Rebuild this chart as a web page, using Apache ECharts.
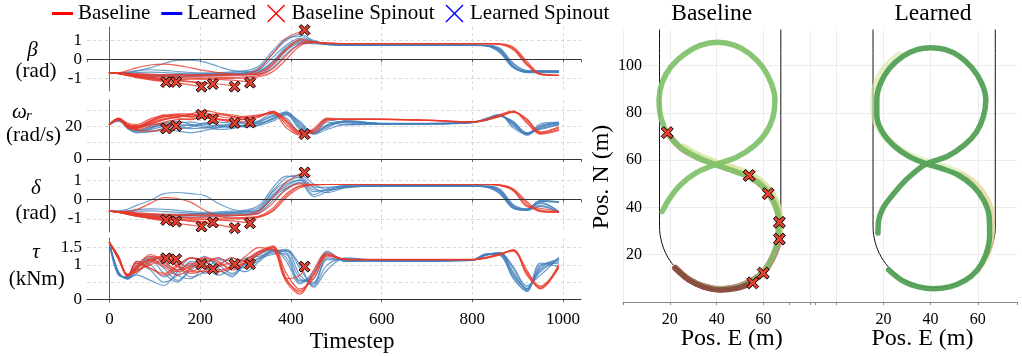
<!DOCTYPE html>
<html>
<head>
<meta charset="utf-8">
<title>Baseline vs Learned</title>
<script src="https://cdn.jsdelivr.net/npm/echarts@6.0.0/dist/echarts.min.js"></script>
<style>
  html, body { margin: 0; padding: 0; background: #fff; }
  #chart { width: 1022px; height: 356px; }
</style>
</head>
<body>
<div id="chart"></div>
<script>
// shared timestep grid of the full-length runs
const timesteps = [0, 20, 40, 60, 90, 120, 150, 180, 210, 240, 270, 300, 330, 360, 390, 420, 450, 480, 520, 600, 700, 800, 830, 860, 890, 920, 950, 990]
// timesteps where the baseline runs spun out
const spinT = [125, 147, 203, 228, 276, 310, 430]

// beta (rad)
const betaBlue = [
  [-0.7, -0.72, -0.7, -0.62, -0.45, -0.22, -0.06, -0.05, -0.15, -0.38, -0.58, -0.65, -0.6, -0.1, 0.65, 1.0, 0.9, 0.78, 0.75, 0.74, 0.74, 0.74, 0.73, 0.5, -0.35, -0.64, -0.63, -0.64],
  [-0.7, -0.73, -0.76, -0.78, -0.8, -0.82, -0.8, -0.78, -0.76, -0.74, -0.72, -0.7, -0.55, 0.1, 0.75, 1.1, 0.95, 0.8, 0.76, 0.75, 0.75, 0.75, 0.72, 0.45, -0.4, -0.66, -0.64, -0.65],
  [-0.7, -0.74, -0.8, -0.85, -0.9, -0.92, -0.9, -0.86, -0.84, -0.82, -0.8, -0.78, -0.7, -0.3, 0.45, 0.85, 0.82, 0.77, 0.75, 0.74, 0.74, 0.74, 0.7, 0.35, -0.45, -0.68, -0.67, -0.68],
  [-0.7, -0.72, -0.72, -0.7, -0.68, -0.7, -0.74, -0.78, -0.8, -0.8, -0.78, -0.72, -0.45, 0.3, 1.0, 1.3, 1.0, 0.8, 0.76, 0.75, 0.75, 0.75, 0.73, 0.55, -0.25, -0.6, -0.62, -0.62],
  [-0.7, -0.75, -0.82, -0.9, -0.98, -1.0, -0.97, -0.92, -0.88, -0.86, -0.84, -0.82, -0.78, -0.45, 0.3, 0.8, 0.9, 0.78, 0.75, 0.73, 0.73, 0.73, 0.71, 0.4, -0.4, -0.7, -0.7, -0.7],
  [-0.7, -0.71, -0.68, -0.6, -0.55, -0.58, -0.65, -0.7, -0.72, -0.7, -0.66, -0.6, -0.35, 0.45, 1.1, 1.2, 0.95, 0.82, 0.77, 0.75, 0.75, 0.75, 0.74, 0.6, -0.2, -0.6, -0.6, -0.6],
  [-0.7, -0.73, -0.78, -0.82, -0.85, -0.86, -0.84, -0.82, -0.8, -0.78, -0.76, -0.74, -0.65, -0.15, 0.55, 0.9, 0.88, 0.8, 0.76, 0.75, 0.74, 0.74, 0.72, 0.48, -0.35, -0.66, -0.66, -0.67]
]
const betaRed = [
  [-0.7, -0.74, -0.8, -0.85, -0.88, -0.9, -0.92, -0.93, -0.94, -0.95, -0.95, -0.92, -0.85, -0.5, 0.2, 0.8, 0.88, 0.84, 0.82, 0.82, 0.82, 0.82, 0.82, 0.8, 0.6, -0.2, -0.78, -0.84],
  [-0.7, -0.7, -0.6, -0.45, -0.3, -0.26, -0.32, -0.45, -0.6, -0.7, -0.78, -0.82, -0.78, -0.3, 0.5, 0.95, 0.9, 0.84, 0.82, 0.82, 0.82, 0.82, 0.82, 0.78, 0.5, -0.3, -0.8, -0.85],
  [-0.7, -0.76, -0.85, -0.95, -1.02, -1.05, -1.06, -1.05, -1.04, -1.02, -1.0, -0.98, -0.92, -0.65, 0.0, 0.7, 0.9, 0.85, 0.83, 0.82, 0.82, 0.82, 0.82, 0.81, 0.65, -0.1, -0.75, -0.84],
  [-0.7, -0.73, -0.76, -0.8, -0.82, -0.84, -0.85, -0.86, -0.86, -0.86, -0.85, -0.8, -0.7, -0.2, 0.55, 1.05, 0.92, 0.85, 0.83, 0.83, 0.83, 0.83, 0.83, 0.79, 0.55, -0.25, -0.8, -0.86]
]
const betaSpinRuns = [
  [-0.7, -0.76, -0.86, -0.96, -1.08, -1.18],
  [-0.7, -0.75, -0.82, -0.9, -1.0, -1.1],
  [-0.7, -0.76, -0.84, -0.94, -1.05, -1.15, -1.25, -1.35],
  [-0.7, -0.74, -0.8, -0.88, -0.96, -1.04, -1.12, -1.2, -1.26],
  [-0.7, -0.74, -0.8, -0.87, -0.95, -1.03, -1.1, -1.17, -1.24, -1.3, -1.4],
  [-0.7, -0.73, -0.77, -0.82, -0.88, -0.93, -0.97, -1.0, -1.03, -1.06, -1.1, -1.18],
  [-0.7, -0.72, -0.74, -0.76, -0.78, -0.8, -0.8, -0.8, -0.8, -0.8, -0.8, -0.78, -0.5, 0.3, 1.1, 1.45]
]
const betaSpin = [-1.2, -1.2, -1.44, -1.3, -1.44, -1.23, 1.54]

// omega_r (rad/s)
const omegaBlue = [
  [21, 24, 19.5, 17.5, 19, 21, 20, 18.5, 19, 20.5, 21, 20, 21, 25, 28, 20, 15.5, 20, 22.5, 21.5, 21.5, 22.3, 24, 26.5, 22, 15, 19, 21.5],
  [21, 23.5, 20, 18, 17, 17.5, 19.5, 21, 20, 18, 18.5, 21, 23, 26.5, 27, 18, 16, 22.5, 21, 21.3, 21.3, 22.2, 24.5, 27, 20, 15.5, 20.5, 22],
  [21, 24.5, 18.5, 16.5, 18.5, 22, 23, 21, 19, 19.5, 21.5, 22.5, 22, 24, 28.5, 22, 16.5, 19, 23.5, 21.7, 21.7, 22.4, 23.5, 26, 23, 16, 18, 21],
  [21, 23, 20.5, 19, 20.5, 21.5, 21, 20.5, 21.5, 22.5, 22, 21.5, 23.5, 27.5, 25, 17, 17, 24, 22, 21.4, 21.4, 22.3, 24.8, 27.2, 19, 15, 21.5, 22.5],
  [21, 24, 19, 16, 16.5, 18.5, 17, 16, 17.5, 19, 20, 19.5, 20.5, 23, 27, 23, 15, 18, 21, 21.2, 21.4, 22.2, 23.8, 26.3, 21.5, 14.5, 19.5, 22],
  [21, 23.8, 20, 17, 18, 20, 22, 22.5, 21, 20, 19.5, 20.5, 22.5, 26, 28.7, 21, 15.5, 21, 22.8, 21.6, 21.6, 22.4, 24.2, 26.8, 21, 15.2, 20, 21.8],
  [21, 24.2, 19.2, 17.3, 19.5, 20.5, 18.5, 19.5, 22, 21, 19, 20.5, 21.5, 24.5, 27.5, 19, 16, 20.5, 23, 21.8, 21.6, 22.3, 24, 26.5, 22.5, 16, 18.5, 21]
]
const omegaRed = [
  [21, 24.5, 20, 19, 23, 27, 27, 26, 28, 26, 25, 26, 27, 28.5, 21, 15, 17, 24.5, 24, 24.2, 23.6, 22.6, 24, 26.5, 29, 23, 15.5, 18],
  [21, 25, 21, 20, 21, 24, 25.5, 27.5, 29.5, 28, 26, 24, 25.5, 29, 24, 16, 16, 23.5, 24.5, 24.3, 23.7, 22.7, 23.8, 26, 28.5, 24, 16, 19],
  [21, 24, 19, 18, 20, 22.5, 24, 24.5, 25, 24, 23.5, 24.5, 26.5, 28, 19, 14.5, 18.5, 25, 24.2, 24.1, 23.5, 22.5, 24.2, 27, 29.3, 22, 15.2, 17.5],
  [21, 24.8, 22, 21, 24.5, 26.5, 25, 24, 26.5, 27.5, 27, 25.5, 26, 29, 22.5, 15.5, 17.5, 24, 24.4, 24.4, 23.8, 22.8, 23.6, 25.8, 28.8, 24.5, 16.5, 19.5]
]
const omegaSpinRuns = [
  [21, 24, 19.5, 17.5, 17, 18.2],
  [21, 24.5, 20.5, 19, 21.5, 21.5],
  [21, 24.5, 21, 20, 23.5, 26, 27.5, 27.5],
  [21, 24, 20, 19.5, 22, 24.5, 26, 27, 25.5],
  [21, 24.5, 20.5, 19.5, 22.5, 25.5, 27, 26, 25.5, 24, 22.5],
  [21, 24.2, 19.8, 18.5, 21.5, 24, 25.5, 27, 26, 24.5, 23.5, 22.5],
  [21, 24.7, 21, 20, 23, 26, 26.5, 25.5, 27, 27, 26, 25, 26.5, 28, 23, 16]
]
const omegaSpin = [18.6, 20.2, 27, 24.2, 22, 22.2, 15.2]

// delta (rad)
const deltaBlue = [
  [-0.6, -0.58, -0.5, -0.3, -0.05, 0.3, 0.36, 0.3, 0.2, -0.2, -0.5, -0.62, -0.55, 0.2, 0.7, 1.0, 0.5, 0.45, 0.65, 0.7, 0.7, 0.7, 0.68, 0.45, -0.35, -0.5, -0.1, -0.12],
  [-0.6, -0.63, -0.68, -0.72, -0.76, -0.78, -0.76, -0.74, -0.72, -0.7, -0.68, -0.64, -0.5, 0.4, 0.9, 1.15, 0.6, 0.35, 0.6, 0.7, 0.7, 0.7, 0.66, 0.4, -0.4, -0.52, -0.2, -0.6],
  [-0.6, -0.64, -0.72, -0.8, -0.86, -0.88, -0.86, -0.82, -0.8, -0.78, -0.76, -0.74, -0.62, 0.1, 0.6, 0.9, 0.25, 0.55, 0.72, 0.69, 0.69, 0.69, 0.65, 0.35, -0.45, -0.55, -0.3, -0.65],
  [-0.6, -0.62, -0.62, -0.6, -0.58, -0.62, -0.66, -0.7, -0.72, -0.7, -0.66, -0.6, -0.4, 0.45, 1.1, 1.25, 0.8, 0.5, 0.62, 0.71, 0.71, 0.71, 0.69, 0.5, -0.3, -0.48, -0.08, -0.15],
  [-0.6, -0.65, -0.75, -0.85, -0.92, -0.95, -0.92, -0.9, -0.88, -0.86, -0.84, -0.8, -0.7, -0.05, 0.5, 0.85, 0.15, 0.4, 0.68, 0.68, 0.68, 0.68, 0.64, 0.3, -0.45, -0.56, -0.35, -0.67],
  [-0.6, -0.61, -0.58, -0.52, -0.48, -0.5, -0.56, -0.62, -0.66, -0.64, -0.6, -0.55, -0.3, 0.6, 1.2, 1.1, 0.65, 0.62, 0.7, 0.7, 0.7, 0.7, 0.69, 0.55, -0.25, -0.5, -0.05, -0.12],
  [-0.6, -0.63, -0.7, -0.76, -0.8, -0.82, -0.8, -0.78, -0.76, -0.74, -0.72, -0.7, -0.58, 0.25, 0.8, 1.0, 0.4, 0.5, 0.66, 0.69, 0.69, 0.69, 0.67, 0.42, -0.38, -0.53, -0.15, -0.62]
]
const deltaRed = [
  [-0.6, -0.65, -0.72, -0.8, -0.86, -0.9, -0.92, -0.93, -0.94, -0.95, -0.95, -0.92, -0.85, -0.45, 0.3, 0.7, 0.76, 0.77, 0.77, 0.77, 0.77, 0.77, 0.77, 0.74, 0.5, -0.2, -0.62, -0.65],
  [-0.6, -0.62, -0.6, -0.52, -0.2, 0.1, 0.05, -0.15, -0.55, -0.85, -0.95, -0.95, -0.88, -0.55, 0.2, 0.68, 0.76, 0.77, 0.77, 0.77, 0.77, 0.77, 0.77, 0.72, 0.45, -0.3, -0.55, -0.64],
  [-0.6, -0.66, -0.76, -0.86, -0.96, -1.02, -1.05, -1.05, -1.04, -1.02, -1.0, -0.98, -0.92, -0.6, 0.1, 0.6, 0.75, 0.77, 0.77, 0.77, 0.77, 0.77, 0.77, 0.75, 0.55, -0.1, -0.6, -0.66],
  [-0.6, -0.64, -0.68, -0.72, -0.76, -0.8, -0.82, -0.83, -0.84, -0.84, -0.83, -0.8, -0.7, -0.2, 0.55, 0.8, 0.77, 0.77, 0.77, 0.77, 0.77, 0.77, 0.77, 0.73, 0.48, -0.36, -0.45, -0.62]
]
const deltaSpinRuns = [
  [-0.6, -0.66, -0.76, -0.86, -0.96, -1.04],
  [-0.6, -0.65, -0.73, -0.82, -0.93, -1.04],
  [-0.6, -0.66, -0.75, -0.84, -0.98, -1.1, -1.22, -1.32],
  [-0.6, -0.64, -0.7, -0.78, -0.88, -0.97, -1.05, -1.1, -1.15],
  [-0.6, -0.64, -0.7, -0.77, -0.86, -0.95, -1.03, -1.12, -1.2, -1.3, -1.44],
  [-0.6, -0.63, -0.68, -0.74, -0.82, -0.88, -0.93, -0.98, -1.02, -1.06, -1.1, -1.18],
  [-0.6, -0.62, -0.65, -0.68, -0.72, -0.75, -0.77, -0.78, -0.79, -0.8, -0.8, -0.78, -0.55, 0.1, 0.9, 1.32]
]
const deltaSpin = [-1.05, -1.13, -1.39, -1.18, -1.47, -1.22, 1.39]

// tau (kNm)
const tauBlue = [
  [1.65, 0.75, 0.62, 0.95, 1.2, 0.9, 0.55, 0.85, 1.15, 1.0, 0.75, 1.05, 1.3, 1.45, 1.2, 0.55, 0.6, 1.3, 1.12, 1.12, 1.12, 1.14, 1.3, 1.33, 0.75, 0.3, 0.95, 1.15],
  [1.65, 0.8, 0.6, 0.75, 1.1, 1.2, 0.95, 0.65, 0.8, 1.15, 1.1, 0.9, 1.15, 1.4, 1.4, 0.7, 0.45, 1.15, 1.15, 1.11, 1.11, 1.13, 1.28, 1.35, 0.9, 0.35, 0.8, 1.2],
  [1.65, 0.7, 0.65, 1.05, 0.85, 0.5, 0.7, 1.1, 0.95, 0.7, 0.9, 1.2, 1.25, 1.38, 1.45, 0.9, 0.4, 1.0, 1.18, 1.12, 1.12, 1.14, 1.32, 1.3, 0.65, 0.22, 1.0, 1.05],
  [1.65, 0.78, 0.58, 0.85, 1.25, 1.05, 0.7, 0.6, 1.0, 1.2, 0.95, 0.8, 1.1, 1.35, 1.3, 0.5, 0.7, 1.35, 1.1, 1.11, 1.11, 1.13, 1.27, 1.36, 0.95, 0.4, 0.7, 1.2],
  [1.65, 0.72, 0.63, 0.7, 0.55, 0.4, 0.8, 1.2, 1.1, 0.85, 0.7, 1.0, 1.2, 1.3, 1.42, 1.0, 0.35, 0.85, 1.2, 1.13, 1.13, 1.15, 1.31, 1.28, 0.6, 0.25, 1.05, 0.95],
  [1.65, 0.76, 0.6, 0.9, 1.15, 0.75, 0.5, 0.95, 1.25, 0.9, 0.65, 1.1, 1.35, 1.45, 1.1, 0.45, 0.8, 1.4, 1.1, 1.12, 1.12, 1.14, 1.29, 1.34, 0.8, 0.28, 0.9, 1.15],
  [1.65, 0.74, 0.64, 1.1, 1.0, 0.65, 0.85, 1.0, 0.75, 0.95, 1.2, 1.0, 1.2, 1.42, 1.35, 0.6, 0.5, 1.2, 1.14, 1.12, 1.12, 1.14, 1.3, 1.32, 0.7, 0.3, 0.85, 1.1]
]
const tauRed = [
  [1.65, 1.2, 0.7, 0.9, 1.2, 1.25, 1.0, 0.8, 1.05, 1.2, 1.0, 1.15, 1.4, 1.5, 0.6, 0.2, 0.7, 1.3, 1.16, 1.15, 1.15, 1.15, 1.2, 1.3, 1.43, 0.75, 0.32, 0.95],
  [1.65, 1.25, 0.68, 1.05, 0.9, 0.7, 0.95, 1.2, 1.1, 0.85, 0.95, 1.25, 1.5, 1.45, 0.5, 0.15, 0.85, 1.35, 1.15, 1.15, 1.15, 1.15, 1.22, 1.32, 1.42, 0.85, 0.3, 0.9],
  [1.65, 1.15, 0.72, 0.8, 1.1, 0.95, 0.7, 0.9, 1.2, 1.1, 0.85, 1.05, 1.35, 1.55, 0.75, 0.3, 0.6, 1.25, 1.17, 1.16, 1.16, 1.16, 1.19, 1.28, 1.44, 0.7, 0.35, 1.0],
  [1.65, 1.22, 0.66, 0.95, 1.3, 1.1, 0.85, 1.05, 0.9, 1.0, 1.2, 1.1, 1.3, 1.52, 0.55, 0.25, 0.75, 1.28, 1.16, 1.15, 1.15, 1.15, 1.21, 1.31, 1.4, 0.8, 0.38, 0.92]
]
const tauSpinRuns = [
  [1.65, 1.2, 0.7, 0.95, 1.15, 1.2],
  [1.65, 1.18, 0.72, 0.85, 1.0, 1.15],
  [1.65, 1.22, 0.7, 1.0, 1.25, 1.1, 0.85, 0.95],
  [1.65, 1.2, 0.68, 0.9, 1.15, 1.2, 0.95, 0.75, 0.85],
  [1.65, 1.24, 0.71, 0.8, 1.05, 1.25, 1.1, 0.85, 0.8, 0.95, 1.05],
  [1.65, 1.19, 0.69, 1.1, 0.9, 0.75, 1.0, 1.2, 1.0, 0.8, 0.9, 1.05],
  [1.65, 1.21, 0.7, 0.9, 1.15, 1.0, 0.8, 1.0, 1.2, 1.05, 0.9, 1.1, 1.38, 1.45, 0.6, 0.7]
]
const tauSpin = [1.19, 1.16, 1.02, 0.88, 1.02, 1.02, 0.95]

// track boundary, Pos. E / Pos. N (m)
const track = [[15.6, 116], [15.6, 32], [16.5, 25.3], [19.1, 19], [23.2, 13.7], [28.5, 9.6], [34.8, 7], [41.5, 6.1], [48.2, 7], [54.5, 9.6], [59.8, 13.7], [63.9, 19], [66.5, 25.3], [67.4, 32], [67.4, 116]]

// baseline runs
const baseRun = [[22.3, 14.4], [28, 9.6], [34.5, 6.6], [41.5, 5.4], [48.5, 6.2], [55, 8.8], [60.2, 13], [64, 19.5], [66.3, 27], [66.4, 35], [64.5, 42], [60.5, 48], [54, 52.8], [46, 55.8], [39.4, 58.1], [32, 61], [25, 65], [19.5, 70.5], [16.3, 77.5], [15.4, 85.6], [16.8, 93], [20.5, 99.5], [26.5, 105], [33, 108.5], [40.3, 109.8], [47.5, 108.6], [54, 105], [59.5, 99.5], [63.3, 92.5], [64.9, 85.6], [64, 78], [61, 71.5], [56, 66], [48.5, 61.2], [39.4, 58.1], [31, 54.5], [24.5, 49.5], [19.7, 43.5], [16.8, 38.3]]
const baseHalo = [[66.8, 30], [66.6, 37], [64.8, 43], [61, 48.8], [54.5, 53.6], [46.5, 56.6], [39.4, 58.8], [32, 61.8], [26, 65.2]]
const baseSpinRuns = [
  [[22.3, 14.4], [28, 9.4], [34.5, 6.3], [41.5, 5.1], [48.5, 5.8], [55.4, 8.1]],
  [[22.3, 14.4], [28, 9.6], [34.5, 6.6], [41.5, 5.5], [48.5, 6.4], [54.8, 9], [59.9, 12.2]],
  [[22.3, 14.4], [28, 9.6], [34.5, 6.6], [41.5, 5.4], [48.5, 6.3], [55.2, 9], [60.6, 13.3], [64.6, 19.8], [66.8, 26.6]],
  [[22.3, 14.4], [28, 9.6], [34.5, 6.6], [41.5, 5.4], [48.5, 6.2], [55.1, 8.9], [60.5, 13.2], [64.5, 19.8], [66.8, 27], [66.8, 33.7]],
  [[22.3, 14.4], [28, 9.6], [34.5, 6.6], [41.5, 5.4], [48.5, 6.2], [55, 8.8], [60.4, 13.1], [64.3, 19.7], [66.7, 27.2], [66.9, 35], [65.1, 41], [62, 45.8]],
  [[22.3, 14.4], [28, 9.6], [34.5, 6.6], [41.5, 5.4], [48.5, 6.2], [55, 8.8], [60.3, 13], [64.2, 19.6], [66.6, 27.1], [66.8, 35.2], [65, 42.3], [61, 48.4], [53.9, 53.5]],
  [[22.3, 14.4], [28, 9.6], [34.5, 6.6], [41.5, 5.4], [48.5, 6.2], [55, 8.8], [60.2, 13], [64, 19.5], [66.4, 27], [66.5, 35], [64.6, 42], [60.6, 48], [54, 53], [46, 56], [39.4, 58.3], [32, 61], [25, 64.8], [18.9, 71.6]]
]

// learned runs
const learnedRun = [[22.2, 13.6], [28, 9], [34.5, 6.5], [41.2, 5.6], [48, 6.4], [54.5, 9], [59.8, 13.5], [63.4, 20], [65, 28], [64.8, 36], [62.5, 43], [58, 49], [51.5, 53.8], [44.5, 56.5], [38, 58.5], [31, 61.5], [24.5, 66], [19.5, 72], [17.2, 79], [17.2, 85.6], [18.8, 92.5], [22.8, 99], [28.5, 104], [34.5, 106.8], [40.1, 107.5], [46, 106.8], [52, 104], [57.5, 99], [61.6, 92.5], [63.4, 85.6], [62.4, 78.5], [59.5, 72], [54.5, 66.5], [47, 61.5], [38, 58.3], [30.5, 52.5], [24.5, 46], [20, 40], [18, 34.5], [17.7, 29.2]]
const learnedHaloA = [[63.5, 19], [65.6, 28], [65.6, 37], [63.3, 44], [58.8, 50], [52, 54.5], [45, 57.3], [38, 59.3], [30.5, 62.3], [23.8, 67], [18.5, 73], [16, 80], [15.9, 86], [17.2, 93], [21, 99.5], [26.8, 104.5]]
const learnedHaloB = [[60, 13.5], [64, 20], [65.9, 28], [65.9, 36], [63.8, 43.5], [59.3, 49.5], [53, 54]]

var serif = '"Liberation Serif", "Times New Roman", serif'
var red = 'rgba(232, 58, 42, 0.8)'
var blue = 'rgba(64, 126, 186, 0.75)'
var fatX = 'path://M0,2 L2,0 L5,3 L8,0 L10,2 L7,5 L10,8 L8,10 L5,7 L2,10 L0,8 L3,5 Z'
var thinX = 'path://M0,1 L1,0 L9,8 L17,0 L18,1 L10,9 L18,17 L17,18 L9,10 L1,18 L0,17 L8,9 Z'
var lineIcon = 'path://M0,0 L21,0 L21,3 L0,3 Z'

var panels = [
  { blue: betaBlue, red: betaRed, spin: betaSpinRuns, spinVal: betaSpin, min: -1.67, max: 1.7, split: 3, top: 27, height: 64, show: [-1, 0, 1], minLabel: false },
  { blue: omegaBlue, red: omegaRed, spin: omegaSpinRuns, spinVal: omegaSpin, min: 0, max: 36, split: 4, top: 100, height: 59, show: [0, 20], minLabel: true },
  { blue: deltaBlue, red: deltaRed, spin: deltaSpinRuns, spinVal: deltaSpin, min: -1.67, max: 1.67, split: 3, top: 167, height: 65, show: [-1, 0, 1], minLabel: false },
  { blue: tauBlue, red: tauRed, spin: tauSpinRuns, spinVal: tauSpin, min: -0.08, max: 1.78, split: 4, top: 238, height: 64, show: [0, 1, 1.5], minLabel: false }
]

function runLine(name, idx, data, color, width, z) {
  return {
    name: name, type: 'line', xAxisIndex: idx, yAxisIndex: idx, data: data,
    smooth: 0.35, symbol: 'none', silent: true, z: z || 2,
    lineStyle: { color: color, width: width || 1.2, cap: 'round', join: 'round' },
    itemStyle: { color: color },
    emphasis: { disabled: true }
  }
}

var grids = []
var xAxes = []
var yAxes = []
var series = []

panels.forEach(function (p, i) {
  grids.push({ left: 87, width: 494, top: p.top, height: p.height })
  xAxes.push({
    gridIndex: i, type: 'value', min: -49.5, max: 1039.5, splitNumber: 5,
    axisLine: { lineStyle: { color: '#666' } },
    axisTick: { show: true, length: 3, lineStyle: { color: '#666' } },
    axisLabel: {
      show: i === 3, margin: 9, fontSize: 17, fontFamily: serif, color: '#000',
      showMinLabel: false, showMaxLabel: false,
      formatter: function (v) { return (v >= 0 && v <= 1000 && v % 200 === 0) ? String(v) : '' }
    },
    splitLine: { show: true, showMinLine: false, showMaxLine: false, lineStyle: { color: '#d6d6d6', type: [3, 3] } }
  })
  yAxes.push({
    gridIndex: i, type: 'value', min: p.min, max: p.max, splitNumber: p.split,
    axisLine: { show: true, lineStyle: { color: '#666' } },
    axisTick: { show: false },
    axisLabel: {
      margin: 5, fontSize: 17, fontFamily: serif, color: '#000',
      showMinLabel: p.minLabel, showMaxLabel: false,
      formatter: function (v) { return p.show.indexOf(v) >= 0 ? String(v) : '' }
    },
    splitLine: { show: true, showMinLine: false, showMaxLine: false, lineStyle: { color: '#d6d6d6', type: [3, 3] } }
  })

  p.blue.forEach(function (vals, k) {
    var s = runLine('Learned', i, timesteps.map(function (t, j) { return [t, vals[j]] }), blue)
    if (k === 0) {
      // black zero line
      s.markLine = {
        silent: true, symbol: ['none', 'none'], label: { show: false },
        lineStyle: { color: '#333', width: 1, type: 'solid' }, data: [{ yAxis: 0 }]
      }
    }
    series.push(s)
  })
  p.red.forEach(function (vals) {
    series.push(runLine('Baseline', i, timesteps.map(function (t, j) { return [t, vals[j]] }), red))
  })
  p.spin.forEach(function (vals, k) {
    var d = vals.map(function (v, j) { return [timesteps[j], v] })
    d.push([spinT[k], p.spinVal[k]])
    series.push(runLine('Baseline', i, d, red))
  })
  series.push({
    name: 'Baseline Spinout', type: 'scatter', xAxisIndex: i, yAxisIndex: i, z: 10, silent: true,
    symbol: fatX, symbolSize: 11,
    itemStyle: { color: '#e8402f', borderColor: '#000', borderWidth: 1, opacity: 1 },
    data: spinT.map(function (t, k) { return [t, p.spinVal[k]] })
  })
})

series.push({ name: 'Learned Spinout', type: 'scatter', xAxisIndex: 0, yAxisIndex: 0, data: [], symbol: thinX, itemStyle: { color: '#0000ff' } })

// trajectory plots
grids.push({ left: 623, width: 192, top: 30, height: 272 })
grids.push({ left: 789, width: 228, top: 30, height: 272 })
;[4, 5].forEach(function (i) {
  xAxes.push({
    gridIndex: i, type: 'value', min: i === 4 ? 0 : -20, max: i === 4 ? 82 : 76.6, splitNumber: i === 4 ? 4 : 5,
    axisLine: { lineStyle: { color: '#888' } },
    axisTick: { show: true, length: 3, lineStyle: { color: '#888' } },
    axisLabel: {
      margin: 10, fontSize: 16, fontFamily: serif, color: '#000',
      formatter: function (v) { return [20, 40, 60].indexOf(v) >= 0 ? String(v) : '' }
    },
    splitLine: { show: true, showMinLine: i === 4, showMaxLine: false, lineStyle: { color: '#ececec' } }
  })
  yAxes.push({
    gridIndex: i, type: 'value', min: 0, max: 115, splitNumber: 5, offset: -27,
    axisLine: { show: false }, axisTick: { show: false },
    axisLabel: {
      show: i === 4, margin: 8, fontSize: 16, fontFamily: serif, color: '#000',
      formatter: function (v) { return [20, 40, 60, 80, 100].indexOf(v) >= 0 ? String(v) : '' }
    },
    splitLine: { show: true, showMinLine: false, showMaxLine: false, lineStyle: { color: '#ececec' } }
  })
  series.push(runLine('track', i, track, '#111', 1, 1))
})

baseSpinRuns.slice(1).forEach(function (r) {
  series.push(runLine('baseline run', 4, r, 'rgba(214, 120, 128, 0.7)', 6, 2))
})
series.push(runLine('baseline run', 4, baseHalo, 'rgba(214, 228, 150, 0.8)', 8, 3))
series.push(runLine('baseline run', 4, baseRun, 'rgba(126, 192, 104, 0.92)', 5.5, 4))
series.push(runLine('baseline run', 4, baseSpinRuns[0], '#8a4f3f', 5.5, 5))
series.push({
  name: 'Baseline Spinout', type: 'scatter', xAxisIndex: 4, yAxisIndex: 4, z: 10, silent: true,
  symbol: fatX, symbolSize: 12,
  itemStyle: { color: '#e8402f', borderColor: '#000', borderWidth: 1, opacity: 1 },
  data: baseSpinRuns.map(function (r) { return r[r.length - 1] })
})

series.push(runLine('learned run', 5, learnedHaloA, 'rgba(214, 230, 160, 0.6)', 7, 2))
series.push(runLine('learned run', 5, learnedHaloB, 'rgba(238, 200, 150, 0.5)', 6, 3))
series.push(runLine('learned run', 5, learnedRun, 'rgba(82, 160, 86, 0.95)', 5.5, 4))

function label(text, x, y, size, opts) {
  opts = opts || {}
  return {
    type: 'text', x: x, y: y, rotation: opts.rotation || 0, z: 100, silent: true,
    style: {
      text: text, fill: '#000',
      font: (opts.italic ? 'italic ' : '') + size + 'px ' + serif,
      textAlign: 'center', textVerticalAlign: 'middle'
    }
  }
}

var option = {
  animation: false,
  backgroundColor: '#fff',
  legend: {
    left: 52, top: 3, padding: 0, itemWidth: 21, itemHeight: 18, itemGap: 11, selectedMode: false,
    textStyle: { fontFamily: serif, fontSize: 21, color: '#000' },
    data: [
      { name: 'Baseline', icon: lineIcon, itemStyle: { color: '#ff0000', opacity: 1, borderWidth: 0 } },
      { name: 'Learned', icon: lineIcon, itemStyle: { color: '#0000ff', opacity: 1, borderWidth: 0 } },
      { name: 'Baseline Spinout', icon: thinX, itemStyle: { color: '#ff0000', opacity: 1, borderWidth: 0 } },
      { name: 'Learned Spinout', icon: thinX, itemStyle: { color: '#0000ff', opacity: 1, borderWidth: 0 } }
    ]
  },
  grid: grids,
  xAxis: xAxes,
  yAxis: yAxes,
  series: series,
  graphic: {
    elements: [
      label('β', 32.5, 50, 21, { italic: true }),
      label('(rad)', 36, 71.5, 21),
      label('ω', 19.5, 112, 21, { italic: true }),
      label('r', 29, 116, 15, { italic: true }),
      label('(rad/s)', 33.5, 135, 21),
      label('δ', 36, 188, 21, { italic: true }),
      label('(rad)', 36, 213, 21),
      label('τ', 36, 252, 21, { italic: true }),
      label('(kNm)', 36.7, 279, 21),
      label('Timestep', 352, 342, 23),
      label('Baseline', 711.7, 13.5, 23.5),
      label('Learned', 933, 13.5, 23.5),
      label('Pos. N (m)', 602, 177, 24, { rotation: Math.PI / 2 }),
      label('Pos. E (m)', 731.7, 339, 24),
      label('Pos. E (m)', 922.5, 339, 24)
    ]
  }
}

var myChart = echarts.init(document.getElementById('chart'))
myChart.setOption(option)
</script>
</body>
</html>
